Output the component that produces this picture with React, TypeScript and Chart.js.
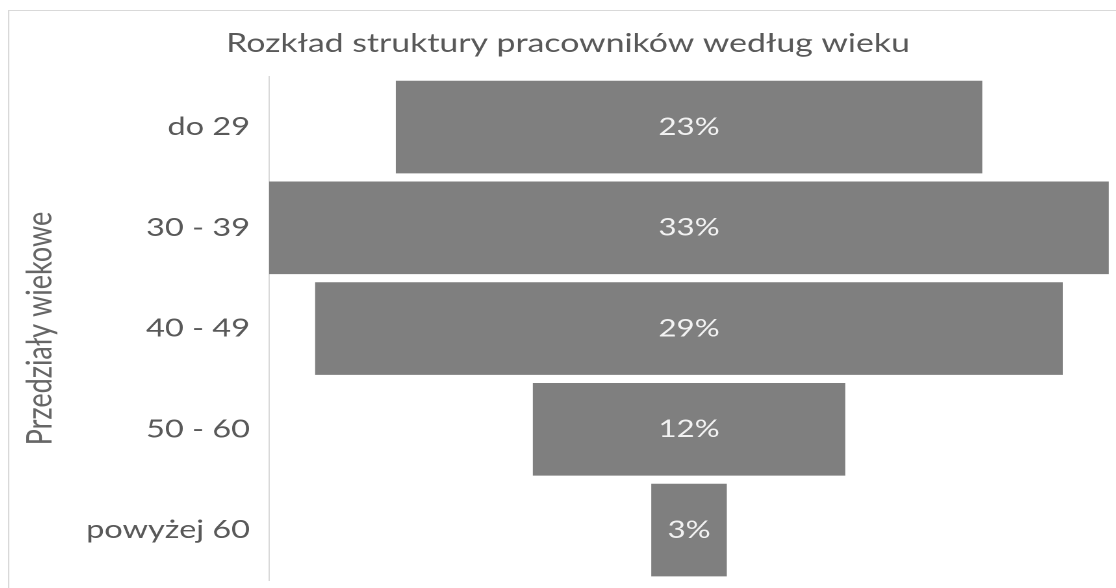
import React, { useEffect, useRef } from "react";
import { Chart, registerables } from "chart.js";

Chart.register(...registerables);

const chartTitle = "Rozkład struktury pracowników według wieku";
const axisTitle = "Przedziały wiekowe";
const categories = ["do 29", "30 - 39", "40 - 49", "50 - 60", "powyżej 60"];
const shares = [22.9, 32.8, 29.2, 12.2, 2.95];
const shareLabels = ["23%", "33%", "29%", "12%", "3%"];

const LOGICAL_W = 862;
const LOGICAL_H = 600;

const framePlugin = {
  id: "frame",
  beforeDraw(chart: any) {
    const { ctx, width, height } = chart;
    ctx.save();
    ctx.fillStyle = "#ffffff";
    ctx.fillRect(0, 0, width, height);
    ctx.strokeStyle = "#d9d9d9";
    ctx.lineWidth = 1;
    ctx.strokeRect(0.5, 0.5, width - 1, height - 1);
    ctx.restore();
  },
};

const barLabelPlugin = {
  id: "barLabels",
  afterDatasetsDraw(chart: any) {
    const { ctx } = chart;
    const meta = chart.getDatasetMeta(0);
    ctx.save();
    ctx.fillStyle = "#f2f2f2";
    ctx.font = "24px Lato";
    ctx.textAlign = "center";
    ctx.textBaseline = "middle";
    meta.data.forEach((el: any, i: number) => {
      const cx = (el.x + el.base) / 2;
      ctx.fillText(shareLabels[i], cx, el.y);
    });
    ctx.restore();
  },
};

export default function App() {
  const ref = useRef<HTMLCanvasElement | null>(null);

  useEffect(() => {
    if (!ref.current) return;
    const maxShare = Math.max(...shares);
    const chart = new Chart(ref.current, {
      type: "bar",
      data: {
        labels: categories,
        datasets: [
          {
            data: shares.map((v) => [-v / 2, v / 2]) as any,
            backgroundColor: "#7f7f7f",
            borderWidth: 0,
            barPercentage: 1,
            categoryPercentage: 0.92,
          },
        ],
      },
      options: {
        indexAxis: "y",
        responsive: false,
        animation: false,
        devicePixelRatio: 2,
        layout: { padding: { left: 14.6, right: 14.6, top: 0, bottom: 25.2 } },
        plugins: {
          legend: { display: false },
          tooltip: { enabled: false },
          title: {
            display: true,
            text: chartTitle,
            color: "#595959",
            font: { family: "Lato", size: 26, weight: "normal" },
            padding: { top: 18, bottom: 17.5 },
          },
        },
        scales: {
          x: {
            display: false,
            min: -maxShare / 2,
            max: maxShare / 2,
          },
          y: {
            grid: { display: false, drawTicks: false },
            border: { display: true, color: "#d9d9d9", width: 1 },
            ticks: {
              color: "#595959",
              font: { family: "Lato", size: 25 },
              padding: 14.6,
            },
            title: {
              display: true,
              text: axisTitle,
              color: "#666666",
              font: { family: "Lato", size: 27, lineHeight: "20px" },
              padding: { top: 0, bottom: 0 },
            },
            afterFit: (scale: any) => {
              scale.width = 186.3;
            },
          },
        },
      },
      plugins: [framePlugin, barLabelPlugin],
    });
    return () => chart.destroy();
  }, []);

  return (
    <div
      style={{
        position: "fixed",
        left: 0,
        top: 0,
        width: 1116,
        height: 588,
        overflow: "hidden",
        background: "#ffffff",
      }}
    >
      <canvas
        ref={ref}
        width={LOGICAL_W}
        height={LOGICAL_H}
        style={{
          position: "absolute",
          left: 8,
          top: 10,
          width: "1120px",
          height: "600px",
        }}
      />
    </div>
  );
}
